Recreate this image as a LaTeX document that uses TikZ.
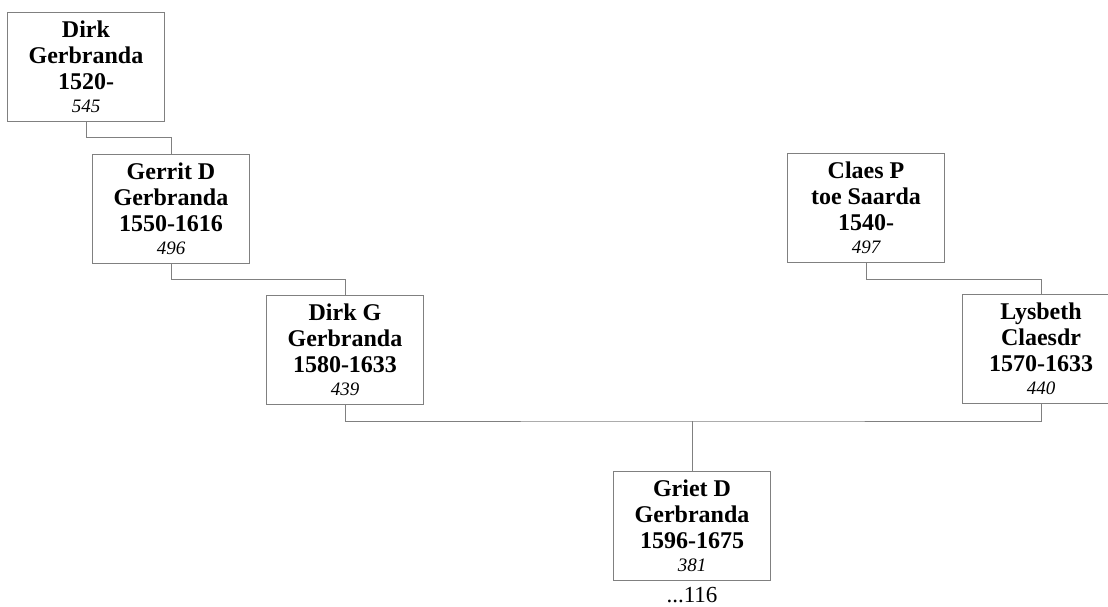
\documentclass[tikz,border=0pt]{standalone}
\usepackage{fontspec}
\setmainfont{Liberation Serif}
\definecolor{linegray}{HTML}{808080}
\tikzset{
  pbox/.style={draw=linegray, line width=1pt, fill=white, minimum width=157pt, minimum height=109pt,
    inner sep=0pt, align=center, font=\fontsize{24}{26}\selectfont\bfseries},
  conn/.style={draw=linegray, line width=1pt},
}
\newcommand{\idnum}[1]{{\fontsize{19}{22}\selectfont\mdseries\itshape #1}}
\begin{document}
\begin{tikzpicture}[x=1pt,y=-1pt]
\clip (0,0) rectangle (1108,606);
\fill[white] (0,0) rectangle (1108,606);
\node[pbox] (b1) at (86,66.5) {Dirk\\Gerbranda\\1520-\\[-3pt]\idnum{545}};
\node[pbox] (b2) at (171,208.5) {Gerrit D\\Gerbranda\\1550-1616\\[-3pt]\idnum{496}};
\node[pbox] (b3) at (345,349.5) {Dirk G\\Gerbranda\\1580-1633\\[-3pt]\idnum{439}};
\node[pbox] (b4) at (866,208) {Claes P\\toe Saarda\\1540-\\[-3pt]\idnum{497}};
\node[pbox] (b5) at (1041,349) {Lysbeth\\Claesdr\\1570-1633\\[-3pt]\idnum{440}};
\node[pbox] (b6) at (692,525.5) {Griet D\\Gerbranda\\1596-1675\\[-3pt]\idnum{381}};
\node[anchor=base, inner sep=0pt, font=\fontsize{23}{27}\selectfont] (n116) at (692,602) {...116};
\coordinate (bus) at (692,421);
\draw[conn] (b1.south) -- ++(0,16) -| (b2.north);
\draw[conn] (b2.south) -- ++(0,16) -| (b3.north);
\draw[conn] (b4.south) -- ++(0,16) -| (b5.north);
\draw[conn] (b3.south) |- (bus) -| (b5.south);
\draw[conn] (bus) -- (b6.north);
\end{tikzpicture}
\end{document}
